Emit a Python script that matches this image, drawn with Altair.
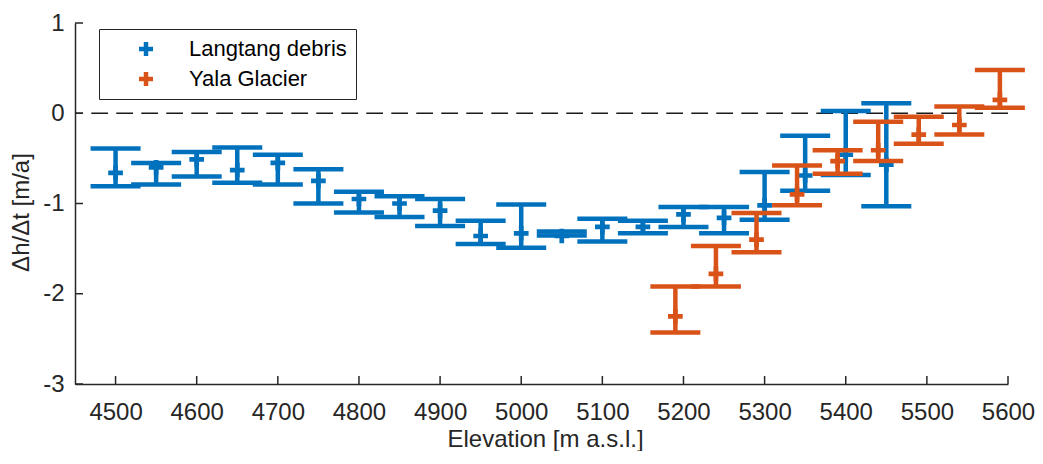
import altair as alt
import pandas as pd

# ---------------- data ----------------
series_names = ["Langtang debris", "Yala Glacier"]
series_colors = ["#0072BD", "#D95319"]

lt_elev = [4500, 4550, 4600, 4650, 4700, 4750, 4800, 4850, 4900, 4950,
           5000, 5050, 5100, 5150, 5200, 5250, 5300, 5350, 5400, 5450]
lt_mean = [-0.66, -0.60, -0.51, -0.63, -0.55, -0.75, -0.95, -1.00, -1.08, -1.36,
           -1.33, -1.36, -1.26, -1.26, -1.12, -1.16, -1.02, -0.69, -0.46, -0.57]
lt_low = [-0.81, -0.79, -0.70, -0.77, -0.79, -1.00, -1.10, -1.15, -1.25, -1.45,
          -1.49, -1.355, -1.42, -1.33, -1.26, -1.33, -1.18, -0.86, -0.685, -1.03]
lt_high = [-0.39, -0.55, -0.43, -0.38, -0.46, -0.62, -0.87, -0.92, -0.95, -1.19,
           -1.01, -1.31, -1.17, -1.19, -1.04, -1.04, -0.65, -0.25, 0.025, 0.11]

ya_elev = [5190, 5240, 5290, 5340, 5390, 5440, 5490, 5540, 5590]
ya_mean = [-2.25, -1.78, -1.40, -0.90, -0.53, -0.41, -0.236, -0.13, 0.149]
ya_low = [-2.43, -1.92, -1.54, -1.02, -0.67, -0.53, -0.337, -0.236, 0.062]
ya_high = [-1.92, -1.47, -1.105, -0.58, -0.41, -0.094, -0.04, 0.076, 0.478]

x_ticks = [4500, 4600, 4700, 4800, 4900, 5000, 5100, 5200, 5300, 5400, 5500, 5600]
y_ticks = [-3, -2, -1, 0, 1]
x_domain = [4450, 5600]
y_domain = [-3, 1]
zero_line = [0]

# ---------------- tables ----------------
df = pd.concat([
    pd.DataFrame({"elev": lt_elev, "mean": lt_mean, "low": lt_low, "high": lt_high,
                  "series": series_names[0]}),
    pd.DataFrame({"elev": ya_elev, "mean": ya_mean, "low": ya_low, "high": ya_high,
                  "series": series_names[1]}),
], ignore_index=True)

W, H = 933, 361
INK = "#262626"
FONT = "Liberation Sans"
PLUS = ("M-1,-0.32L-0.32,-0.32L-0.32,-1L0.32,-1L0.32,-0.32L1,-0.32L1,0.32"
        "L0.32,0.32L0.32,1L-0.32,1L-0.32,0.32L-1,0.32Z")

xs = alt.Scale(domain=x_domain, nice=False, zero=False)
ys = alt.Scale(domain=y_domain, nice=False, zero=False)

x_axis = alt.Axis(values=x_ticks, format="d", title="Elevation [m a.s.l.]", grid=False,
                  ticks=False, tickSize=0, labelFlush=False, labelOverlap=False,
                  domainColor=INK, domainWidth=1.5,
                  labelFont=FONT, labelFontSize=24, labelColor=INK,
                  labelBaseline="alphabetic", labelPadding=35,
                  titleFont=FONT, titleFontSize=24, titleColor=INK, titleFontWeight="normal",
                  titleBaseline="alphabetic", titleY=62, titleX=470, titleAlign="center")
y_axis = alt.Axis(values=y_ticks, labelExpr="'' + datum.value", title="Δh/Δt [m/a]",
                  grid=False, ticks=False, tickSize=0, labelFlush=False, labelOverlap=False,
                  domainColor=INK, domainWidth=1.5,
                  labelFont=FONT, labelFontSize=24, labelColor=INK, labelPadding=11,
                  titleFont=FONT, titleFontSize=24, titleColor=INK, titleFontWeight="normal",
                  titleAngle=270, titleBaseline="alphabetic", titleAlign="center",
                  titleX=-47, titleY=189)


def X(field):
    return alt.X(field, type="quantitative", scale=xs, axis=x_axis)


def Y(field):
    return alt.Y(field, type="quantitative", scale=ys, axis=y_axis)


layers = []

# dashed zero line
layers.append(
    alt.Chart(pd.DataFrame({"z": zero_line}))
    .mark_rule(color="#1a1a1a", strokeWidth=1.6, strokeDash=[16.7, 8.3])
    .encode(y=Y("z"))
)

legend = alt.Legend(title=None, orient="none", legendX=24, legendY=6,
                    strokeColor=INK, fillColor="#ffffff", padding=9, rowPadding=8,
                    symbolType=PLUS, symbolSize=196, symbolStrokeWidth=0, symbolOpacity=1,
                    symbolOffset=27, labelOffset=32,
                    labelFont=FONT, labelFontSize=22, labelColor="#000000", labelLimit=400)

color_enc = alt.Color("series:N", scale=alt.Scale(domain=series_names, range=series_colors),
                      legend=legend)

for name, col in zip(series_names, series_colors):
    base = alt.Chart(df).transform_filter(alt.datum.series == name)
    layers.append(base.mark_rule(color=col, strokeWidth=4.5)
                  .encode(x=X("elev"), y=Y("low"), y2="high"))
    layers.append(base.mark_tick(orient="horizontal", size=50, thickness=4.5, color=col, opacity=1)
                  .encode(x=X("elev"), y=Y("low")))
    layers.append(base.mark_tick(orient="horizontal", size=50, thickness=4.5, color=col, opacity=1)
                  .encode(x=X("elev"), y=Y("high")))
    layers.append(base.mark_point(shape=PLUS, size=216, filled=True, opacity=1, strokeWidth=0)
                  .encode(x=X("elev"), y=Y("mean"), color=color_enc))

# inward axis ticks
layers.append(
    alt.Chart(pd.DataFrame({"t": x_ticks}))
    .mark_rule(color=INK, strokeWidth=1.5)
    .encode(x=X("t"), y=alt.value(H), y2=alt.value(H - 8))
)
layers.append(
    alt.Chart(pd.DataFrame({"t": y_ticks}))
    .mark_rule(color=INK, strokeWidth=1.5)
    .encode(y=Y("t"), x=alt.value(0), x2=alt.value(8))
)

chart = (
    alt.layer(*layers)
    .properties(width=W, height=H,
                padding={"left": 67, "top": 15, "right": 27, "bottom": 67},
                autosize=alt.AutoSizeParams(type="none"),
                background="#ffffff")
    .configure_view(stroke=None)
)

chart.save("out.html", embed_options={"renderer": "svg", "actions": False})
